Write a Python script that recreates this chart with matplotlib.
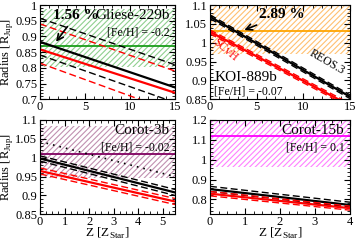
import numpy as np
import matplotlib
matplotlib.use('Agg')
import matplotlib.pyplot as plt
from matplotlib.ticker import MultipleLocator, FuncFormatter

plt.rcParams['font.family'] = 'Liberation Serif'
plt.rcParams['mathtext.fontset'] = 'custom'
plt.rcParams['mathtext.rm'] = 'Liberation Serif'
plt.rcParams['hatch.linewidth'] = 0.8

# Panel data: planet, x range, observed radius (value, low, high), model lines at Z=0 and Z=xmax
planets = ['Gliese-229b', 'KOI-889b', 'Corot-3b', 'Corot-15b']
feh = ['[Fe/H] = -0.2', '[Fe/H] = -0.07', '[Fe/H] = -0.02', '[Fe/H] = 0.1']
xmax = [15, 15, 5.5, 4]
ylims = [(0.7, 1.0), (0.85, 1.1), (0.85, 1.1), (0.725, 1.2)]
obs_r = [0.871, 1.031, 1.010, 1.12]
obs_lo = [0.804, 0.969, 0.945, 0.965]
obs_hi = [0.986, 1.12, 1.083, 1.25]
obs_colors = ['#1a9e1a', '#ffa500', '#800060', '#ff00ff']
hatch_colors = ['#8fcf8f', '#ffc070', '#c090b0', '#ff80ff']

# REOS.3 (black): solid, upper dashed, lower dashed  -> (value at Z=0, value at Z=xmax)
reos_mid = [(0.883, 0.738), (1.069, 0.857), (0.998, 0.908), (0.852, 0.772)]
reos_up = [(0.958, 0.810), (1.074, 0.862), (1.005, 0.916), (0.866, 0.786)]
reos_dn = [(0.841, 0.690), (1.064, 0.852), (0.991, 0.900), (0.840, 0.762)]
# SCvH (red)
scvh_mid = [(0.859, 0.721), (1.029, 0.834), (0.965, 0.884), (0.829, 0.756)]
scvh_up = [(0.940, 0.790), (1.034, 0.839), (0.973, 0.892), (0.840, 0.766)]
scvh_dn = [(0.815, 0.659), (1.024, 0.829), (0.957, 0.876), (0.818, 0.746)]
# Corot-3b dotted black line
dotted_c3 = (1.043, 0.950)

positions = [
    [0.1127, 0.586, 0.3803, 0.393],
    [0.5915, 0.586, 0.3944, 0.393],
    [0.1127, 0.107, 0.3803, 0.393],
    [0.5915, 0.107, 0.3944, 0.393],
]
xmajor = [5, 5, 1, 1]
ymajor = [0.05, 0.05, 0.05, 0.1]

fig = plt.figure(figsize=(3.55, 2.4), dpi=100)

for i in range(4):
    ax = fig.add_axes(positions[i])
    xs = np.array([0, xmax[i]])
    ax.fill_between(xs, obs_lo[i], obs_hi[i], facecolor='none',
                    edgecolor=hatch_colors[i], hatch='//////', linewidth=0)
    ax.axhline(obs_r[i], color=obs_colors[i], lw=1.3)

    ax.plot(xs, reos_mid[i], color='black', lw=1.6)
    ax.plot(xs, reos_up[i], color='black', lw=1.0, ls=(0, (5, 2.5)))
    ax.plot(xs, reos_dn[i], color='black', lw=1.0, ls=(0, (5, 2.5)))
    ax.plot(xs, scvh_mid[i], color='red', lw=1.6)
    ax.plot(xs, scvh_up[i], color='red', lw=1.0, ls=(0, (5, 2.5)))
    ax.plot(xs, scvh_dn[i], color='red', lw=1.0, ls=(0, (5, 2.5)))
    if i == 2:
        ax.plot(xs, dotted_c3, color='black', lw=1.2, ls=(0, (1, 3)))

    ax.set_xlim(0, xmax[i])
    ax.set_ylim(*ylims[i])
    ax.xaxis.set_major_locator(MultipleLocator(xmajor[i]))
    ax.xaxis.set_minor_locator(MultipleLocator(xmajor[i] / 5 if i < 2 else 0.25))
    ax.yaxis.set_major_locator(MultipleLocator(ymajor[i]))
    ax.yaxis.set_minor_locator(MultipleLocator(ymajor[i] / 5))
    ax.yaxis.set_major_formatter(FuncFormatter(lambda v, p: '%g' % round(v, 3)))
    ax.tick_params(which='both', direction='in', top=True, right=True,
                   labelsize=9, pad=2)
    ax.tick_params(axis='x', pad=1)
    ax.tick_params(which='major', length=4)
    ax.tick_params(which='minor', length=2)

    if i % 2 == 0:
        ax.set_ylabel(r'Radius [R$_{\rm Jup}$]', fontsize=9)
        ax.yaxis.set_label_coords(-0.185, 0.5)
    if i >= 2:
        ax.set_xlabel(r'Z [Z$_{\rm Star}$]', fontsize=9.5)
        ax.xaxis.set_label_coords(0.5, -0.125)

    if i == 1:
        ax.text(0.03, 0.19, planets[i], transform=ax.transAxes, fontsize=11)
        ax.text(0.03, 0.05, feh[i], transform=ax.transAxes, fontsize=8.5)
        ax.text(1.6, 0.98, 'SCvH', color='red', fontsize=8.5, rotation=-40,
                ha='center', va='center')
        ax.text(12.5, 0.948, 'REOS.3', color='black', fontsize=8.5, rotation=-30,
                ha='center', va='center')
        ax.annotate('2.89 %', xy=(3.4, 1.031), xytext=(5.3, 1.065),
                    fontsize=11, fontweight='bold',
                    arrowprops=dict(arrowstyle='->', color='black', lw=1.2))
    else:
        ax.text(0.96, 0.85, planets[i], transform=ax.transAxes, fontsize=11,
                ha='right')
        ax.text(0.96, 0.68, feh[i], transform=ax.transAxes, fontsize=8.5,
                ha='right')
    if i == 0:
        ax.annotate('1.56 %', xy=(1.6, 0.876), xytext=(1.45, 0.957),
                    fontsize=11, fontweight='bold',
                    arrowprops=dict(arrowstyle='->', color='black', lw=1.2))

fig.savefig('out.png', dpi=100)
